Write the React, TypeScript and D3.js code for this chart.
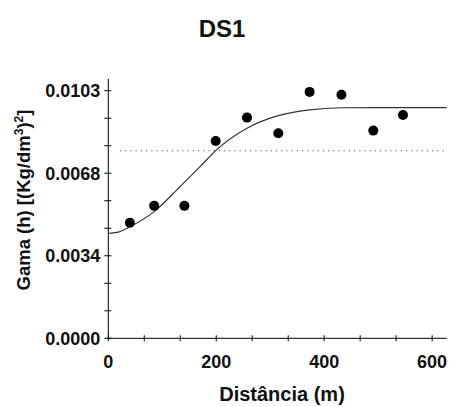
import React from "react";
import * as d3 from "d3";

const title = "DS1";
const xTitle = "Distância (m)";
const yTitleMain = "Gama (h) [(Kg/dm";
const yTitleSup1 = "3";
const yTitleMid = ")";
const yTitleSup2 = "2";
const yTitleEnd = "]";

// experimental semivariogram points
const lagDistance = [40, 85, 141, 199, 257, 315, 373, 432, 491, 546];
const semivariance = [0.00481, 0.00551, 0.00551, 0.00821, 0.00918, 0.00853, 0.01025, 0.01013, 0.00864, 0.00929];

// fitted model curve
const modelDistance = [0, 20, 40, 85, 133, 170, 200, 257, 315, 373, 432, 500, 627];
const modelValue = [0.00437, 0.00443, 0.00464, 0.00527, 0.00631, 0.00714, 0.00783, 0.00874, 0.00926, 0.0095, 0.00959, 0.0096, 0.0096];

// sample variance (dotted)
const sampleVariance = 0.0078;

const xTickValues = [0, 200, 400, 600];
const xTickLabels = ["0", "200", "400", "600"];
const yTickLabels = ["0.0000", "0.0034", "0.0068", "0.0103"];
const yMaxTick = 0.0103;

export default function App() {
  const W = 451, H = 407;
  const x0 = 108.3, x1 = 446.7;
  const y0 = 338.3;
  const x = d3.scaleLinear().domain([0, 627]).range([x0, x1]);
  const y = d3.scaleLinear().domain([0, yMaxTick]).range([y0, 90.7]);
  const yTop = 79;

  const xMinor = d3.range(10).map((i) => (i * 200) / 3);
  const yMinor = d3.range(10).map((i) => (i * yMaxTick) / 9);

  const line = d3
    .line<number>()
    .x((_, i) => x(modelDistance[i]))
    .y((d) => y(d))
    .curve(d3.curveMonotoneX);

  const font = "'Liberation Sans', Arial, sans-serif";

  return (
    <svg width={W} height={H} style={{ position: "absolute", left: 0, top: 0, background: "#fff" }}>
      <rect width={W} height={H} fill="#fff" />
      <text x={222} y={37} textAnchor="middle" fontFamily={font} fontWeight="bold" fontSize={24} fill="#111">
        {title}
      </text>
      {/* axes */}
      <line x1={x0} x2={x0} y1={yTop} y2={y0} stroke="#000" strokeWidth={1} />
      <line x1={x0} x2={x1} y1={y0} y2={y0} stroke="#000" strokeWidth={1} />
      {yMinor.map((v, i) => (
        <line key={"yt" + i} x1={x0 - 4} x2={x0 + 3} y1={y(v)} y2={y(v)} stroke="#000" strokeWidth={1} />
      ))}
      {xMinor.map((v, i) => (
        <line key={"xt" + i} x1={x(v)} x2={x(v)} y1={y0 - 3} y2={y0 + 3} stroke="#000" strokeWidth={1} />
      ))}
      {yTickLabels.map((t, i) => (
        <text
          key={"yl" + i}
          x={x0 - 8}
          y={y(yMinor[i * 3]) + 6.5}
          textAnchor="end"
          fontFamily={font}
          fontWeight="bold"
          fontSize={18}
          fill="#111"
        >
          {t}
        </text>
      ))}
      {xTickValues.map((v, i) => (
        <text
          key={"xl" + i}
          x={x(v)}
          y={368}
          textAnchor="middle"
          fontFamily={font}
          fontWeight="bold"
          fontSize={18}
          fill="#111"
        >
          {xTickLabels[i]}
        </text>
      ))}
      <text x={282} y={401} textAnchor="middle" fontFamily={font} fontWeight="bold" fontSize={20} fill="#111">
        {xTitle}
      </text>
      <text
        transform={`translate(30,200) rotate(-90)`}
        textAnchor="middle"
        fontFamily={font}
        fontWeight="bold"
        fontSize={18.5}
        fill="#111"
      >
        {yTitleMain}
        <tspan fontSize={12} dy={-7}>{yTitleSup1}</tspan>
        <tspan dy={7}>{yTitleMid}</tspan>
        <tspan fontSize={12} dy={-7}>{yTitleSup2}</tspan>
        <tspan dy={7}>{yTitleEnd}</tspan>
      </text>
      {/* sample variance */}
      <line
        x1={120}
        x2={445}
        y1={y(sampleVariance)}
        y2={y(sampleVariance)}
        stroke="#555"
        strokeWidth={1}
        strokeDasharray="1.2,4"
      />
      {/* model */}
      <path d={line(modelValue) || ""} fill="none" stroke="#333" strokeWidth={1.2} />
      {/* points */}
      {lagDistance.map((d, i) => (
        <circle key={"p" + i} cx={x(d)} cy={y(semivariance[i])} r={5} fill="#000" />
      ))}
    </svg>
  );
}
